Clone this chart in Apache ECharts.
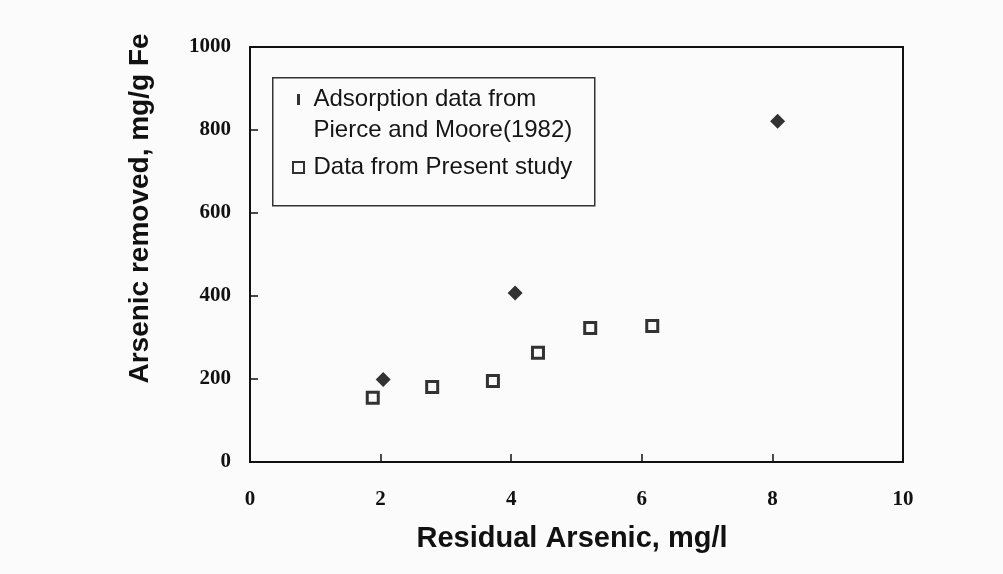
<!DOCTYPE html>
<html>
<head>
<meta charset="utf-8">
<script src="https://cdn.jsdelivr.net/npm/echarts@6/dist/echarts.min.js"></script>
<style>
html,body{margin:0;padding:0;background:#fbfbfb;}
#chart{width:1003px;height:574px;}
</style>
</head>
<body>
<div id="chart"></div>
<script>
// ---- data ----
var seriesNames = ['Adsorption data from\nPierce and Moore(1982)', 'Data from Present study'];
var pierceX = [2.04, 4.06, 8.08];
var pierceY = [199, 407, 821];
var presentX = [1.88, 2.79, 3.72, 4.41, 5.21, 6.16];
var presentY = [155, 181, 195, 263, 323, 328];
var xTicks = [0, 2, 4, 6, 8, 10];
var yTicks = [0, 200, 400, 600, 800, 1000];
var xTitle = 'Residual Arsenic, mg/l';
var yTitle = 'Arsenic removed, mg/g Fe';

function pairs(xs, ys) { return xs.map(function (x, i) { return [x, ys[i]]; }); }

var chart = echarts.init(document.getElementById('chart'), null, { renderer: 'canvas' });
var tickFont = { fontFamily: 'Liberation Serif', fontWeight: 'bold', fontSize: 21, color: '#111' };
chart.setOption({
  backgroundColor: '#fbfbfb',
  animation: false,
  grid: { left: 250, right: 100, top: 47, bottom: 112, show: true, borderColor: '#111', borderWidth: 2, backgroundColor: 'transparent' },
  xAxis: {
    type: 'value', min: xTicks[0], max: xTicks[xTicks.length - 1], interval: 2,
    axisLine: { show: true, lineStyle: { color: '#111', width: 2 } },
    axisTick: { show: true, inside: true, length: 8, lineStyle: { color: '#111', width: 1.5 } },
    splitLine: { show: false },
    axisLabel: Object.assign({ margin: 27, formatter: function (v) { return String(v); } }, tickFont),
    name: xTitle, nameLocation: 'middle', nameGap: 62,
    nameTextStyle: { fontFamily: 'Liberation Sans', fontWeight: 'bold', fontSize: 29, color: '#111', padding: [0, 9, 0, 0] }
  },
  yAxis: {
    type: 'value', min: yTicks[0], max: yTicks[yTicks.length - 1], interval: 200,
    axisLine: { show: true, lineStyle: { color: '#111', width: 2 } },
    axisTick: { show: true, inside: true, length: 8, lineStyle: { color: '#111', width: 1.5 } },
    splitLine: { show: false },
    axisLabel: Object.assign({ margin: 19, formatter: function (v) { return String(v); } }, tickFont),
    name: yTitle, nameLocation: 'middle', nameGap: 96, nameRotate: 90,
    nameTextStyle: { fontFamily: 'Liberation Sans', fontWeight: 'bold', fontSize: 28, color: '#111', padding: [0, 0, 0, 92] }
  },
  legend: {
    orient: 'vertical', left: 292, top: 53, padding: 0, itemGap: 6,
    itemWidth: 20, itemHeight: 11,
    textStyle: { fontFamily: 'Liberation Sans', fontSize: 24, color: '#151515', lineHeight: 31 },
    formatter: function (name) { return name === seriesNames[0] ? '\n' + name : name; },
    data: [
      { name: seriesNames[0], icon: 'path://M0,0h3v11h-3z' },
      { name: seriesNames[1], icon: 'path://M0,0h10v10h-10z' }
    ]
  },
  graphic: [{
    type: 'rect', left: 272, top: 77, silent: true,
    shape: { width: 322, height: 128 },
    style: { fill: 'transparent', stroke: '#333', lineWidth: 1.5 }
  }],
  series: [
    {
      name: seriesNames[0], type: 'scatter', symbol: 'diamond', symbolSize: [15, 15],
      symbolKeepAspect: true,
      itemStyle: { color: '#000' },
      data: pairs(pierceX, pierceY)
    },
    {
      name: seriesNames[1], type: 'scatter', symbol: 'rect', symbolSize: 11,
      symbolKeepAspect: true,
      itemStyle: { color: '#fbfbfb', borderColor: '#000', borderWidth: 3 },
      data: pairs(presentX, presentY)
    }
  ]
});
</script>
</body>
</html>
